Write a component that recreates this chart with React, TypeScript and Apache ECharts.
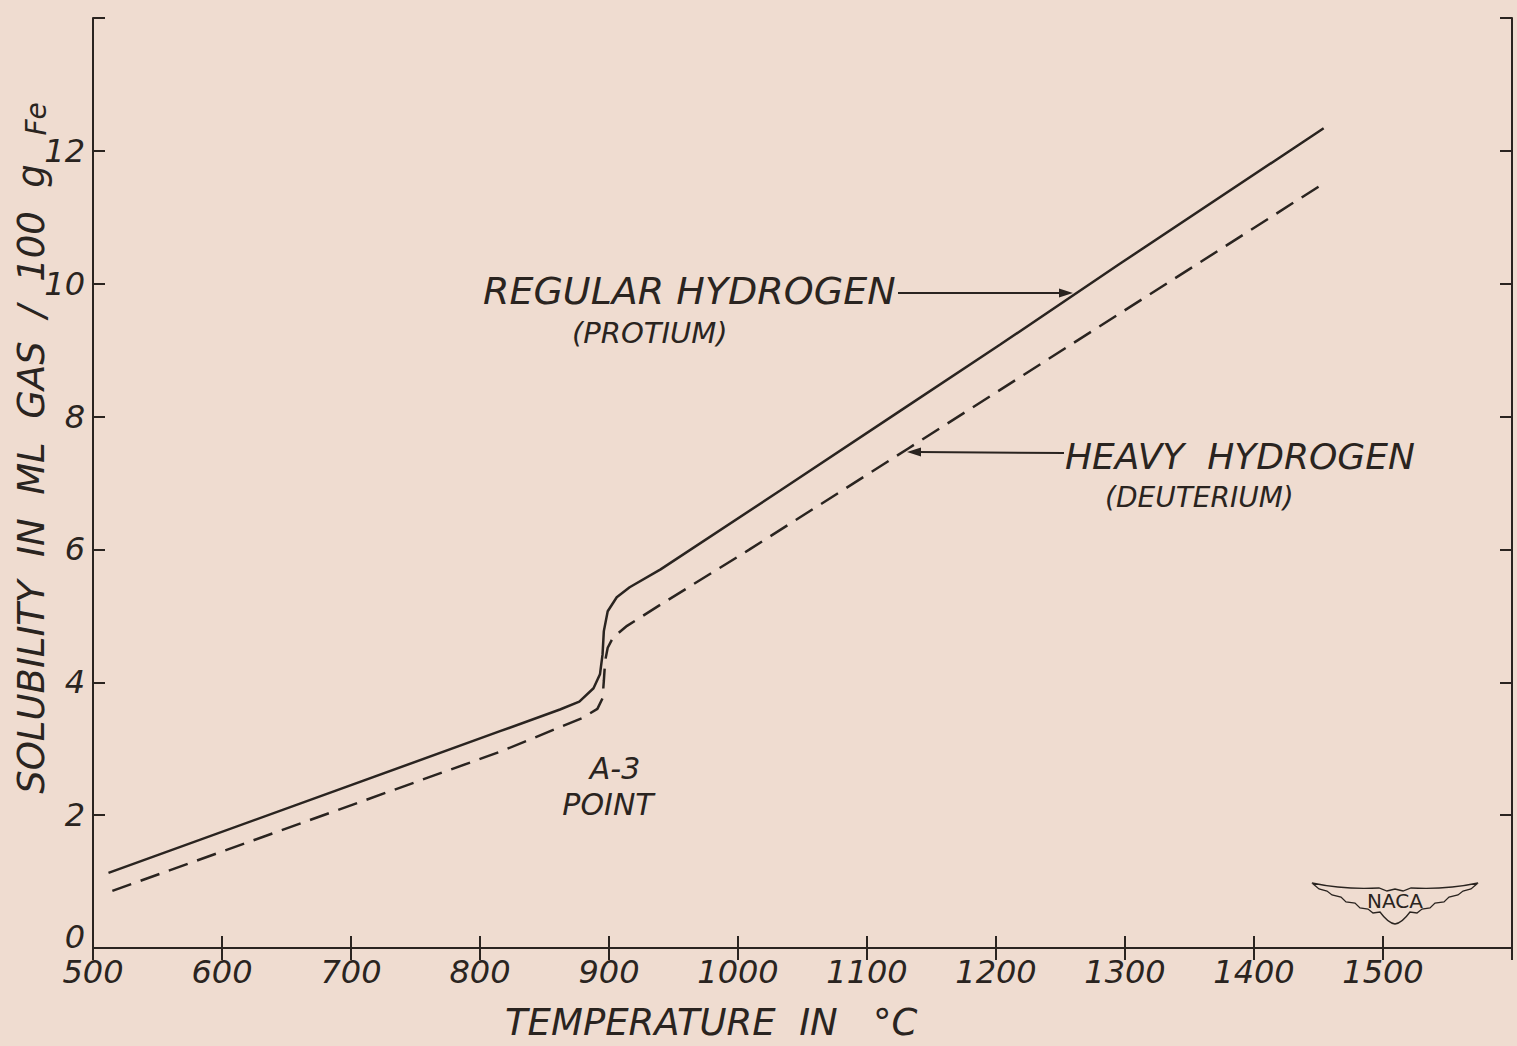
import React, { useEffect, useRef } from "react";
import * as echarts from "echarts";

// Temperature (°C) and solubility (ml gas / 100 g Fe)
const regularTemps = [512, 815, 862, 877, 888, 893, 895, 896, 899, 906, 916, 940, 1033, 1126, 1203, 1296, 1454];
const regularValues = [1.13, 3.26, 3.59, 3.71, 3.91, 4.12, 4.42, 4.77, 5.07, 5.28, 5.43, 5.7, 6.89, 8.09, 9.08, 10.3, 12.34];

const heavyTemps = [515, 815, 879, 891, 895, 896, 897, 899, 903, 914, 940, 1009, 1132, 1454];
const heavyValues = [0.86, 2.95, 3.46, 3.6, 3.76, 4.02, 4.32, 4.52, 4.67, 4.85, 5.17, 6.0, 7.52, 11.51];

const xMin = 500;
const xMax = 1600;
const xStep = 100;
const yMin = 0;
const yMax = 14;
const yStep = 2;

const INK = "#2a2420";
const PAPER = "#efdcd0";
const FONT = "DejaVu Sans";

const NACA_WING =
  "M -83 -17 Q -50 -10 -16 -12 L -8 -9 L 0 -11 L 8 -9 L 16 -12 Q 50 -10 83 -17 " +
  "L 76 -11 L 68 -9 L 63 -5 L 54 -3 L 49 2 L 40 3 L 35 8 L 27 9 L 22 13 L 15 12 " +
  "Q 7 23 0 24 Q -7 23 -15 12 L -22 13 L -27 9 L -35 8 L -40 3 L -49 2 L -54 -3 " +
  "L -63 -5 L -68 -9 L -76 -11 Z";

let registered = false;
function registerLogo() {
  if (registered) return;
  echarts.graphic.registerShape("nacawing", echarts.graphic.extendPath(NACA_WING, {}));
  registered = true;
}

export default function App() {
  const ref = useRef<HTMLDivElement>(null);

  useEffect(() => {
    if (!ref.current) return;
    registerLogo();
    const chart = echarts.init(ref.current, undefined, { renderer: "svg" });

    const labelStyle = {
      fontFamily: FONT,
      fontStyle: "italic" as const,
      fontSize: 32,
      color: INK,
    };

    const xAxisBase = {
      type: "value" as const,
      min: xMin,
      max: xMax,
      interval: xStep,
      splitLine: { show: false },
      axisLine: { show: true, lineStyle: { color: INK, width: 2 } },
      axisTick: { show: true, inside: true, length: 12, lineStyle: { color: INK, width: 2 } },
    };
    const yAxisBase = {
      type: "value" as const,
      min: yMin,
      max: yMax,
      interval: yStep,
      splitLine: { show: false },
      axisLine: { show: true, lineStyle: { color: INK, width: 2 } },
      axisTick: { show: true, inside: true, length: 12, lineStyle: { color: INK, width: 2 } },
    };

    const textEl = (
      text: string,
      x: number,
      y: number,
      size: number,
      align: "left" | "center" = "left",
      lineHeight?: number
    ) => ({
      type: "text",
      x,
      y,
      silent: true,
      style: {
        text,
        fill: INK,
        font: `italic ${size}px "${FONT}"`,
        textAlign: align,
        textVerticalAlign: "middle",
        lineHeight: lineHeight ?? Math.round(size * 1.2),
      },
    });

    const option: any = {
      animation: false,
      backgroundColor: PAPER,
      grid: { left: 93, right: 5, top: 18, bottom: 98, containLabel: false },
      xAxis: [
        {
          ...xAxisBase,
          position: "bottom",
          axisLabel: {
            ...labelStyle,
            margin: 8,
            formatter: (v: number) => (v >= xMax ? "" : String(v)),
          },
        },
        { ...xAxisBase, position: "top", axisLabel: { show: false } },
      ],
      yAxis: [
        {
          ...yAxisBase,
          position: "left",
          axisLabel: {
            ...labelStyle,
            margin: 8,
            formatter: (v: number) => (v >= yMax ? "" : v === 0 ? "{z|0}" : String(v)),
            rich: {
              z: {
                fontFamily: FONT,
                fontStyle: "italic",
                fontSize: 32,
                color: INK,
                padding: [0, 0, 22, 0],
              },
            },
          },
        },
        { ...yAxisBase, position: "right", axisLabel: { show: false } },
      ],
      series: [
        {
          name: "Regular hydrogen (protium)",
          type: "line",
          data: regularTemps.map((t, i) => [t, regularValues[i]]),
          showSymbol: false,
          smooth: false,
          lineStyle: { color: INK, width: 2.5, type: "solid" },
        },
        {
          name: "Heavy hydrogen (deuterium)",
          type: "line",
          data: heavyTemps.map((t, i) => [t, heavyValues[i]]),
          showSymbol: false,
          smooth: false,
          lineStyle: { color: INK, width: 2.5, type: [20, 10] },
        },
      ],
      graphic: [
        // y axis title
        {
          type: "text",
          x: 30,
          y: 448,
          rotation: Math.PI / 2,
          silent: true,
          style: {
            text: "{a|SOLUBILITY  IN  ML  GAS  /  100  g}{s|   }{b|Fe}",
            textAlign: "center",
            textVerticalAlign: "middle",
            rich: {
              a: { fontFamily: FONT, fontStyle: "italic", fontSize: 37, fill: INK, color: INK, verticalAlign: "bottom", lineHeight: 40 },
              s: { fontFamily: FONT, fontSize: 30, fill: INK, color: INK, verticalAlign: "bottom", lineHeight: 40 },
              b: { fontFamily: FONT, fontStyle: "italic", fontSize: 28, fill: INK, color: INK, verticalAlign: "bottom", lineHeight: 36 },
            },
          },
        },
        // x axis title
        textEl("TEMPERATURE  IN   °C", 505, 1022, 37),
        // annotations
        textEl("REGULAR HYDROGEN", 483, 291, 38),
        textEl("(PROTIUM)", 572, 333, 29, "left", 30),
        textEl("HEAVY  HYDROGEN", 1065, 456, 36),
        textEl("(DEUTERIUM)", 1105, 497, 28, "left", 30),
        textEl("A-3", 615, 768, 30, "center", 30),
        textEl("POINT", 608, 804, 30, "center", 30),
        // arrows
        {
          type: "line",
          silent: true,
          shape: { x1: 898, y1: 293, x2: 1062, y2: 293 },
          style: { stroke: INK, lineWidth: 2 },
        },
        {
          type: "polygon",
          silent: true,
          shape: { points: [[1073, 293], [1059, 288.5], [1059, 297.5]] },
          style: { fill: INK },
        },
        {
          type: "line",
          silent: true,
          shape: { x1: 1064, y1: 453, x2: 918, y2: 452 },
          style: { stroke: INK, lineWidth: 2 },
        },
        {
          type: "polygon",
          silent: true,
          shape: { points: [[907, 452], [921, 447.5], [921, 456.5]] },
          style: { fill: INK },
        },
        // NACA logo
        {
          type: "nacawing",
          x: 1395,
          y: 900,
          scaleX: 1,
          scaleY: 1,
          silent: true,
          style: { fill: "none", stroke: INK, lineWidth: 1.3 },
        },
        {
          type: "text",
          x: 1395,
          y: 901,
          silent: true,
          style: {
            text: "NACA",
            fill: INK,
            font: `20px "${FONT}"`,
            textAlign: "center",
            textVerticalAlign: "middle",
          },
        },
      ],
    };

    chart.setOption(option);
    return () => chart.dispose();
  }, []);

  return (
    <div
      ref={ref}
      style={{ position: "fixed", left: 0, top: 0, width: 1517, height: 1046, background: PAPER }}
    />
  );
}
